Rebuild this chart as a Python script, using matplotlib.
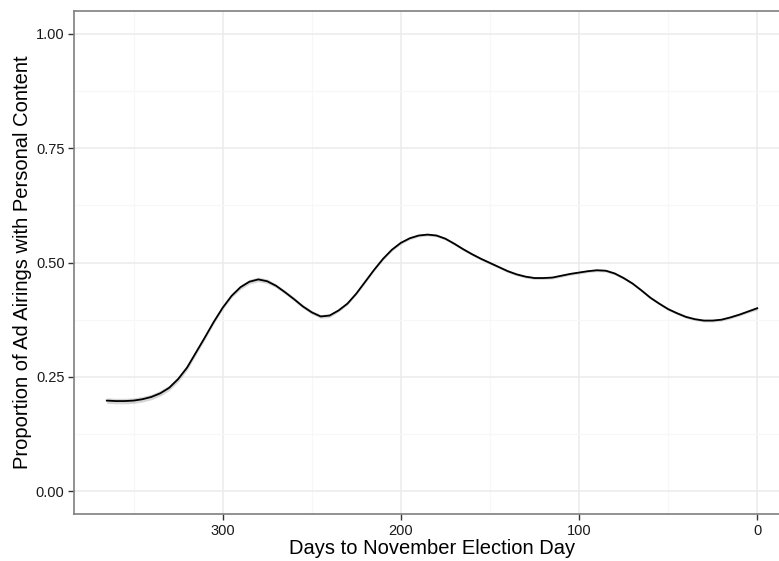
import numpy as np
import matplotlib
matplotlib.use("Agg")
import matplotlib.pyplot as plt

# smoothed proportion (days before election, proportion)
days = [365, 360, 355, 350, 345, 340, 335, 330, 325, 320, 315, 310, 305, 300,
        295, 290, 285, 280, 275, 270, 265, 260, 255, 250, 245, 240, 235, 230,
        225, 220, 215, 210, 205, 200, 195, 190, 185, 180, 175, 170, 165, 160,
        155, 150, 145, 140, 135, 130, 125, 120, 115, 110, 105, 100, 95, 90,
        85, 80, 75, 70, 65, 60, 55, 50, 45, 40, 35, 30, 25, 20, 15, 10, 5, 0]
prop = [0.198, 0.197, 0.197, 0.198, 0.201, 0.206, 0.214, 0.226, 0.245, 0.270,
        0.303, 0.336, 0.370, 0.401, 0.427, 0.446, 0.458, 0.463, 0.459, 0.449,
        0.435, 0.420, 0.404, 0.391, 0.382, 0.384, 0.395, 0.410, 0.432, 0.458,
        0.484, 0.508, 0.528, 0.543, 0.553, 0.559, 0.561, 0.559, 0.552, 0.541,
        0.529, 0.518, 0.508, 0.499, 0.490, 0.481, 0.474, 0.469, 0.466, 0.466,
        0.467, 0.471, 0.475, 0.478, 0.481, 0.483, 0.482, 0.476, 0.466, 0.454,
        0.439, 0.423, 0.410, 0.398, 0.389, 0.381, 0.376, 0.373, 0.373, 0.375,
        0.380, 0.386, 0.393, 0.400]
# half width of the grey confidence band
band = [0.006, 0.006, 0.006, 0.006, 0.006, 0.006, 0.006, 0.006, 0.006, 0.006,
        0.005, 0.005, 0.004, 0.004, 0.004, 0.005, 0.005, 0.005, 0.005, 0.004,
        0.004, 0.004, 0.004, 0.004, 0.004, 0.004, 0.003, 0.003, 0.003, 0.003,
        0.003, 0.003, 0.003, 0.003, 0.003, 0.003, 0.003, 0.003, 0.003, 0.003,
        0.003, 0.003, 0.003, 0.003, 0.003, 0.003, 0.003, 0.003, 0.003, 0.003,
        0.003, 0.003, 0.003, 0.003, 0.003, 0.003, 0.003, 0.003, 0.003, 0.003,
        0.003, 0.003, 0.003, 0.003, 0.003, 0.003, 0.003, 0.003, 0.003, 0.003,
        0.003, 0.003, 0.003, 0.004]

x_ticks = [300, 200, 100, 0]
y_ticks = [0.00, 0.25, 0.50, 0.75, 1.00]

plt.rcParams['font.family'] = ['Liberation Sans', 'DejaVu Sans']

days = np.array(days)
prop = np.array(prop)
band = np.array(band)

fig = plt.figure(figsize=(7.79, 5.61), dpi=100)
# panel runs past the right edge of the picture, as in the reference
ax = fig.add_axes([74.3 / 779, 47 / 561, (789.8 - 74.3) / 779, 503 / 561])

ax.fill_between(days, prop - band, prop + band, color='#999999', alpha=0.4,
                linewidth=0, zorder=2)
ax.plot(days, prop, color='black', linewidth=1.3, zorder=3,
        solid_joinstyle='round')

ax.set_xlim(365 + 365 * 0.05, -365 * 0.05)
ax.set_ylim(-0.05, 1.05)

ax.set_xticks(x_ticks)
ax.set_xticklabels([str(t) for t in x_ticks])
ax.set_xticks([350, 250, 150, 50], minor=True)
ax.set_yticks(y_ticks)
ax.set_yticklabels([f'{t:.2f}' for t in y_ticks])
ax.set_yticks([0.125, 0.375, 0.625, 0.875], minor=True)

ax.grid(which='major', color='#ebebeb', linewidth=1.1, zorder=0)
ax.grid(which='minor', color='#f7f7f7', linewidth=0.8, zorder=0)
ax.set_axisbelow(True)

for s in ax.spines.values():
    s.set_color('#7f7f7f')
    s.set_linewidth(1.2)

ax.tick_params(which='major', length=4, width=1, color='#333333',
               labelsize=10.5, labelcolor='#1a1a1a', pad=3)
ax.tick_params(which='minor', length=0)

ax.set_xlabel('Days to November Election Day', fontsize=14.5, labelpad=1)
ax.set_ylabel('Proportion of Ad Airings with Personal Content', fontsize=14.5,
              labelpad=3)

fig.savefig('out.png', dpi=100)
